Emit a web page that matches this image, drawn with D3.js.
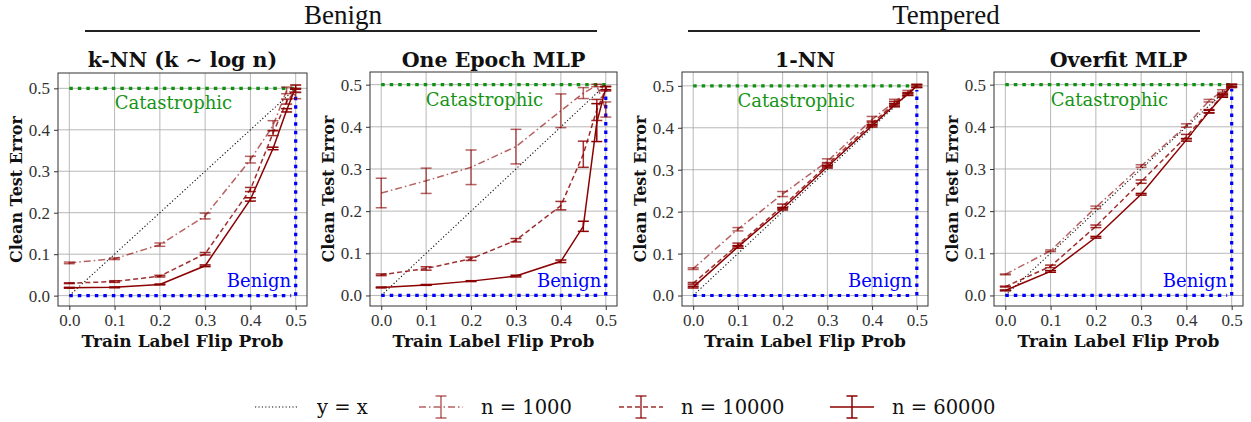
<!DOCTYPE html>
<html><head><meta charset="utf-8">
<script src="https://cdn.jsdelivr.net/npm/d3@7"></script>
<style>body{margin:0;background:#fff}</style>
</head><body>
<svg id="chart" width="1251" height="422"></svg>
<script>
// ---------- data ----------
const flipProbs = [0, 0.1, 0.2, 0.3, 0.4, 0.45, 0.48, 0.5];
const xTicks = [0, 0.1, 0.2, 0.3, 0.4, 0.5];
const yTicks = [0, 0.1, 0.2, 0.3, 0.4, 0.5];
const panelTitles = ["k-NN (k \u223C log n)", "One Epoch MLP", "1-NN", "Overfit MLP"];
const groupTitles = ["Benign", "Tempered"];
const seriesNames = ["n = 1000", "n = 10000", "n = 60000"];

const knn1000   = [0.079, 0.089, 0.123, 0.192, 0.328, 0.410, 0.495, 0.483];
const knn1000e  = [0.002, 0.002, 0.004, 0.007, 0.008, 0.012, 0.008, 0.008];
const knn10000  = [0.030, 0.034, 0.047, 0.101, 0.256, 0.392, 0.468, 0.495];
const knn10000e = [0.001, 0.002, 0.002, 0.003, 0.005, 0.006, 0.006, 0.005];
const knn60000  = [0.019, 0.020, 0.027, 0.072, 0.232, 0.355, 0.447, 0.503];
const knn60000e = [0.001, 0.001, 0.001, 0.002, 0.004, 0.003, 0.004, 0.005];

const oem1000   = [0.243, 0.272, 0.304, 0.353, 0.438, 0.480, 0.498, 0.441];
const oem1000e  = [0.035, 0.030, 0.041, 0.041, 0.040, 0.013, 0.003, 0.018];
const oem10000  = [0.049, 0.064, 0.087, 0.131, 0.213, 0.335, 0.440, 0.490];
const oem10000e = [0.002, 0.004, 0.004, 0.004, 0.010, 0.031, 0.025, 0.005];
const oem60000  = [0.019, 0.025, 0.034, 0.046, 0.081, 0.164, 0.410, 0.492];
const oem60000e = [0.001, 0.001, 0.001, 0.002, 0.003, 0.012, 0.045, 0.004];

const nn1000    = [0.064, 0.158, 0.242, 0.320, 0.420, 0.462, 0.485, 0.500];
const nn1000e   = [0.002, 0.004, 0.006, 0.006, 0.007, 0.006, 0.004, 0.004];
const nn10000   = [0.029, 0.121, 0.213, 0.312, 0.411, 0.458, 0.481, 0.499];
const nn10000e  = [0.002, 0.004, 0.005, 0.005, 0.005, 0.005, 0.003, 0.003];
const nn60000   = [0.020, 0.116, 0.207, 0.307, 0.405, 0.454, 0.480, 0.500];
const nn60000e  = [0.002, 0.003, 0.003, 0.003, 0.003, 0.004, 0.003, 0.003];

const ofm1000   = [0.050, 0.106, 0.209, 0.307, 0.403, 0.462, 0.485, 0.498];
const ofm1000e  = [0.001, 0.002, 0.003, 0.003, 0.004, 0.003, 0.003, 0.003];
const ofm10000  = [0.021, 0.069, 0.164, 0.270, 0.377, 0.437, 0.476, 0.496];
const ofm10000e = [0.001, 0.003, 0.003, 0.004, 0.005, 0.004, 0.003, 0.003];
const ofm60000  = [0.012, 0.057, 0.138, 0.240, 0.369, 0.436, 0.473, 0.498];
const ofm60000e = [0.001, 0.002, 0.002, 0.002, 0.003, 0.003, 0.003, 0.003];

const yMaxes = [0.537, 0.53, 0.533, 0.53];

// ---------- layout / style ----------
const panelsData = [
  [[knn1000, knn1000e], [knn10000, knn10000e], [knn60000, knn60000e]],
  [[oem1000, oem1000e], [oem10000, oem10000e], [oem60000, oem60000e]],
  [[nn1000, nn1000e], [nn10000, nn10000e], [nn60000, nn60000e]],
  [[ofm1000, ofm1000e], [ofm10000, ofm10000e], [ofm60000, ofm60000e]]
];
const boxes = [
  {l: 58, r: 307, t: 73, b: 306},
  {l: 370, r: 617, t: 72, b: 306},
  {l: 682, r: 928, t: 72, b: 306},
  {l: 994, r: 1243, t: 72, b: 306}
];
const seriesColors = ["rgba(139,0,0,0.62)", "rgba(139,0,0,0.82)", "rgb(139,0,0)"];
const seriesDash = ["7,3,1.5,3", "5,3", null];
const serif = "'DejaVu Serif'";
const serif2 = "'Liberation Serif'";

const svg = d3.select("#chart");
const txt = (sel, fam, size, weight) => sel.style("font-family", fam).style("font-size", size + "px")
  .style("font-weight", weight || "normal");

panelsData.forEach((series, pi) => {
  const bx = boxes[pi];
  const x = d3.scaleLinear().domain([-0.025, 0.525]).range([bx.l, bx.r]);
  const y = d3.scaleLinear().domain([-0.025, yMaxes[pi]]).range([bx.b, bx.t]);
  const g = svg.append("g");

  // grid
  g.append("g").selectAll("line").data(xTicks).join("line")
    .attr("x1", d => x(d)).attr("x2", d => x(d)).attr("y1", bx.t).attr("y2", bx.b)
    .attr("stroke", "#b0b0b0").attr("stroke-width", 0.9);
  g.append("g").selectAll("line").data(yTicks).join("line")
    .attr("y1", d => y(d)).attr("y2", d => y(d)).attr("x1", bx.l).attr("x2", bx.r)
    .attr("stroke", "#b0b0b0").attr("stroke-width", 0.9);

  // axes
  const xAxis = d3.axisBottom(x).tickValues(xTicks).tickFormat(d3.format(".1f")).tickSize(4).tickPadding(4);
  const yAxis = d3.axisLeft(y).tickValues(yTicks).tickFormat(d3.format(".1f")).tickSize(4).tickPadding(4);
  const gx = g.append("g").attr("transform", `translate(0,${bx.b})`).call(xAxis);
  const gy = g.append("g").attr("transform", `translate(${bx.l},0)`).call(yAxis);
  [gx, gy].forEach(a => {
    a.attr("font-family", null).attr("font-size", null);
    a.select(".domain").remove();
    a.selectAll("line").attr("stroke", "#333");
    a.selectAll("text").call(txt, serif2, 17).attr("fill", "#333");
  });

  // reference lines
  const dotStyle = sel => sel.attr("stroke-width", 3.2).attr("stroke-dasharray", "3.5,5").attr("fill", "none");
  g.append("line").attr("x1", x(0)).attr("x2", x(0.5)).attr("y1", y(0.5)).attr("y2", y(0.5))
    .attr("stroke", "#129012").call(dotStyle);
  g.append("line").attr("x1", x(0)).attr("x2", x(0.49)).attr("y1", y(0)).attr("y2", y(0))
    .attr("stroke", "#0000ff").call(dotStyle);
  g.append("line").attr("x1", x(0.5)).attr("x2", x(0.5)).attr("y1", y(0)).attr("y2", y(0.49))
    .attr("stroke", "#0000ff").call(dotStyle);

  // y = x
  g.append("path").datum([0, 0.5])
    .attr("d", d3.line().x(d => x(d)).y(d => y(d)))
    .attr("stroke", "#111").attr("stroke-width", 1.1).attr("stroke-dasharray", "1.2,2.2").attr("fill", "none");

  // series
  series.forEach(([vals, errs], si) => {
    const pts = flipProbs.map((f, i) => ({f, v: vals[i], e: errs[i]}));
    const col = seriesColors[si];
    const p = g.append("path").datum(pts)
      .attr("d", d3.line().x(d => x(d.f)).y(d => y(d.v)))
      .attr("stroke", col).attr("stroke-width", 1.5).attr("fill", "none");
    if (seriesDash[si]) p.attr("stroke-dasharray", seriesDash[si]);
    const eb = g.append("g").selectAll("g").data(pts).join("g");
    eb.append("line").attr("x1", d => x(d.f)).attr("x2", d => x(d.f))
      .attr("y1", d => y(d.v - d.e)).attr("y2", d => y(d.v + d.e))
      .attr("stroke", col).attr("stroke-width", 1.5);
    [-1, 1].forEach(s => {
      eb.append("line").attr("x1", d => x(d.f) - 5.5).attr("x2", d => x(d.f) + 5.5)
        .attr("y1", d => y(d.v + s * d.e)).attr("y2", d => y(d.v + s * d.e))
        .attr("stroke", col).attr("stroke-width", 1.5);
    });
  });

  // frame
  g.append("rect").attr("x", bx.l).attr("y", bx.t).attr("width", bx.r - bx.l).attr("height", bx.b - bx.t)
    .attr("fill", "none").attr("stroke", "#333").attr("stroke-width", 1);

  // region labels
  g.append("text").attr("x", x(0.23)).attr("y", y(0.450)).attr("text-anchor", "middle")
    .call(txt, serif, 18).attr("fill", "#169416").text("Catastrophic");
  g.append("text").attr("x", x(0.49)).attr("y", y(0.021)).attr("text-anchor", "end")
    .call(txt, serif, 18).attr("fill", "#0000ff").text("Benign");

  // titles and labels
  const cx = (bx.l + bx.r) / 2;
  g.append("text").attr("x", cx).attr("y", 67).attr("text-anchor", "middle")
    .call(txt, serif, 20.5, "bold").attr("fill", "#111").text(panelTitles[pi]);
  g.append("text").attr("x", cx).attr("y", 347).attr("text-anchor", "middle")
    .call(txt, serif, 17, "bold").attr("fill", "#111").text("Train Label Flip Prob");
  g.append("text").attr("transform", `translate(${bx.l - 36},${(bx.t + bx.b) / 2}) rotate(-90)`)
    .attr("text-anchor", "middle")
    .call(txt, serif, 16, "bold").attr("fill", "#111").text("Clean Test Error");
});

// group headers
const groupSpans = [[85, 597], [688, 1200]];
groupTitles.forEach((t, i) => {
  const [a, b] = groupSpans[i];
  svg.append("text").attr("x", (a + b) / 2 + 2).attr("y", 24).attr("text-anchor", "middle")
    .call(txt, serif2, 27).attr("fill", "#111").text(t);
  svg.append("line").attr("x1", a).attr("x2", b).attr("y1", 31).attr("y2", 31)
    .attr("stroke", "#222").attr("stroke-width", 2);
});

// legend
const leg = svg.append("g");
const ly = 407;
leg.append("line").attr("x1", 255).attr("x2", 297).attr("y1", ly).attr("y2", ly)
  .attr("stroke", "#111").attr("stroke-width", 1.1).attr("stroke-dasharray", "1.2,2.2");
leg.append("text").attr("x", 317).attr("y", ly + 7).call(txt, serif, 19.5)
  .attr("fill", "#111").text("y = x");
const legX = [419, 619, 830];
const legTX = [481, 681, 892];
seriesNames.forEach((n, si) => {
  const x0 = legX[si], col = seriesColors[si];
  const l = leg.append("line").attr("x1", x0).attr("x2", x0 + 44).attr("y1", ly).attr("y2", ly)
    .attr("stroke", col).attr("stroke-width", 1.5);
  if (seriesDash[si]) l.attr("stroke-dasharray", seriesDash[si]);
  leg.append("line").attr("x1", x0 + 22).attr("x2", x0 + 22).attr("y1", ly - 11).attr("y2", ly + 11)
    .attr("stroke", col).attr("stroke-width", 1.5);
  [-11, 11].forEach(o => leg.append("line").attr("x1", x0 + 16.5).attr("x2", x0 + 27.5)
    .attr("y1", ly + o).attr("y2", ly + o).attr("stroke", col).attr("stroke-width", 1.5));
  leg.append("text").attr("x", legTX[si]).attr("y", ly + 7).call(txt, serif, 19.5)
    .attr("fill", "#111").text(n);
});
</script>
</body></html>
